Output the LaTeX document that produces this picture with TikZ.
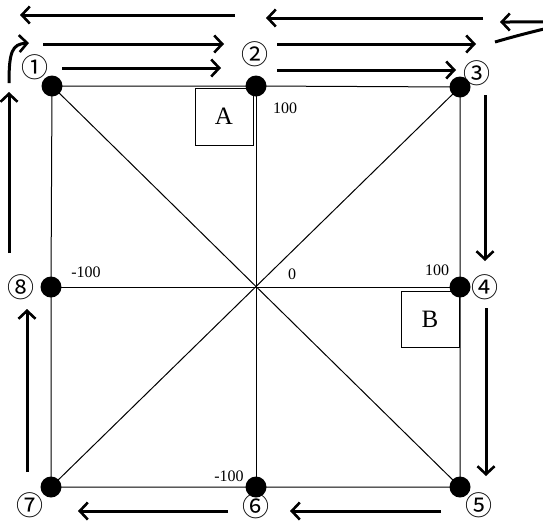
\documentclass[tikz,border=0pt]{standalone}
\usepackage{fontspec}
\setmainfont{Liberation Serif}
\newfontfamily\circfont{Noto Sans CJK JP}
\usetikzlibrary{arrows.meta}
\begin{document}
\begin{tikzpicture}[x=1pt,y=-1pt,
  dot/.style={circle,fill=black,inner sep=0pt,minimum size=21pt},
  edgeline/.style={line width=1pt},
  flow/.style={line width=3pt,-{Straight Barb[length=8pt,width=17pt,line width=2.6pt]}},
  num/.style={inner sep=0pt,font=\circfont\fontsize{27}{27}\selectfont},
  val/.style={inner sep=0pt,font=\fontsize{16}{16}\selectfont},
  boxlabel/.style={draw,line width=1pt,inner sep=0pt,minimum width=58pt,minimum height=57pt,font=\fontsize{25}{25}\selectfont}
]
\useasboundingbox (0,0) rectangle (543,520);
\clip (0,0) rectangle (543,520);
% boxes
\node[boxlabel] (A) at (224,116.5) {A};
\node[boxlabel,minimum height=56pt] (B) at (430,319) {B};
% points
\node[dot] (p1) at (52,86) {};
\node[dot] (p2) at (256,86) {};
\node[dot] (p3) at (460,87) {};
\node[dot] (p4) at (460,287) {};
\node[dot] (p5) at (460,487) {};
\node[dot] (p6) at (256,487) {};
\node[dot] (p7) at (51,487) {};
\node[dot] (p8) at (51,287) {};
% lines
\draw[edgeline] (p1.center) -- (p2.center) -- (p3.center) -- (p4.center) -- (p5.center) -- (p6.center) -- (p7.center) -- (p8.center) -- cycle;
\draw[edgeline] (p1.center) -- (p5.center);
\draw[edgeline] (p3.center) -- (p7.center);
\draw[edgeline] (p2.center) -- (p6.center);
\draw[edgeline] (p8.center) -- (p4.center);
% circled labels
\node[num] (n1) at (35,67) {①};
\node[num] (n2) at (255,54) {②};
\node[num] (n3) at (477,73) {③};
\node[num] (n4) at (485,287) {④};
\node[num] (n5) at (479,505) {⑤};
\node[num] (n6) at (256,506) {⑥};
\node[num] (n7) at (30,505) {⑦};
\node[num] (n8) at (21,287) {⑧};
% values
\node[val] (v1) at (285,108) {100};
\node[val] (v2) at (86,272) {-100};
\node[val] (v3) at (292,274) {0};
\node[val] (v4) at (437,270) {100};
\node[val] (v5) at (229,476) {-100};
% flow arrows
\coordinate (a1s) at (235,15); \coordinate (a1e) at (20,15);
\coordinate (a2s) at (483,18); \coordinate (a2e) at (266,18);
\coordinate (a3s) at (43,44); \coordinate (a3e) at (224,44);
\coordinate (a4s) at (277,44); \coordinate (a4e) at (476,44);
\coordinate (a5s) at (62,68); \coordinate (a5e) at (221,68);
\coordinate (a6s) at (277,70); \coordinate (a6e) at (456,70);
\coordinate (a7s) at (485,95); \coordinate (a7e) at (485,261);
\coordinate (a8s) at (486,308); \coordinate (a8e) at (486,476);
\coordinate (a9s) at (441,511); \coordinate (a9e) at (290,511);
\coordinate (a10s) at (228,511); \coordinate (a10e) at (78,511);
\coordinate (a11s) at (27,472); \coordinate (a11e) at (27,309);
\coordinate (a12s) at (9,253); \coordinate (a12e) at (9,92);
\coordinate (a13s) at (9,83); \coordinate (a13e) at (29,43);
\coordinate (a14s) at (495,42); \coordinate (a14e) at (500,22);
\foreach \i in {1,...,12} \draw[flow] (a\i s) -- (a\i e);
\draw[flow] (a13s) .. controls (9,52) and (12,44) .. (a13e);
\draw[flow] (a14s) .. controls (570,20) and (600,22) .. (a14e);
\end{tikzpicture}
\end{document}
